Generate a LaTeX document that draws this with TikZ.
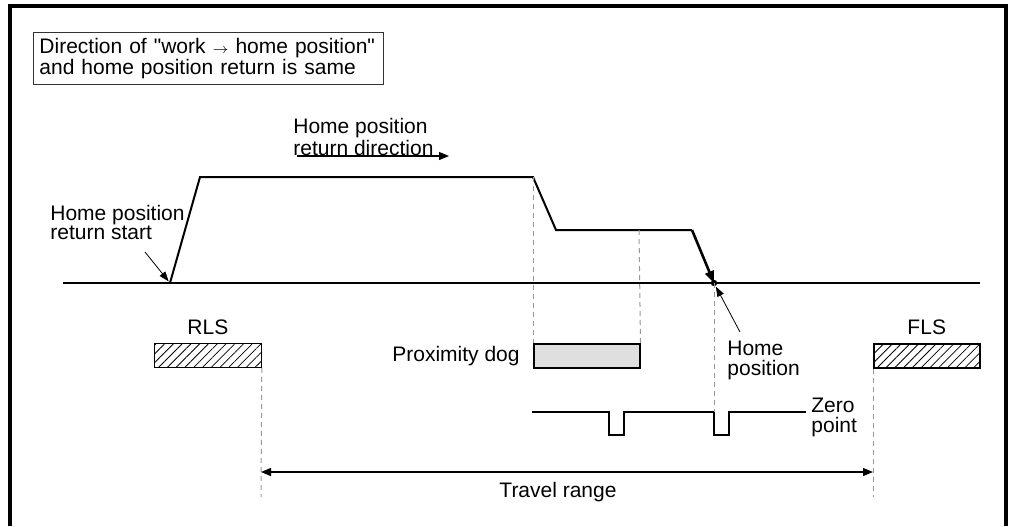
\documentclass[tikz,border=0pt]{standalone}
\usepackage{fontspec}
\setmainfont{Liberation Sans}[Ligatures=TeXOff]
\usetikzlibrary{positioning, arrows.meta, patterns.meta}

\begin{document}
\begin{tikzpicture}[x=0.5pt, y=-0.5pt,
  lbl/.style={font=\fontsize{10.5pt}{9.6pt}\selectfont, inner sep=0pt, align=left},
  limitbox/.style={draw, line width=0.75pt, inner sep=0pt, minimum width=53.5pt, minimum height=12pt,
                   pattern={Lines[angle=45, distance=3.1pt, line width=0.4pt]}},
  guide/.style={draw=gray!80, dash pattern=on 2.5pt off 2pt, line width=0.5pt},
  profile/.style={line width=1pt, line join=miter},
  headarrow/.style={-{Triangle[length=5pt, width=4pt]}, line width=0.6pt},
  pointer/.style={-{Triangle[length=5pt, width=3.5pt]}, line width=0.4pt}]
  \useasboundingbox (0,0) rectangle (1009,526);
  % open frame
  \draw[line width=1.75pt] (10,526) -- (10,6) -- (1006,6) -- (1006,526);
  \node[lbl, draw=black!80, line width=0.45pt, anchor=north west, inner xsep=3pt, text width=169pt,
        minimum height=26pt] (title) at (33,32)
        {Direction of "work {\fontsize{7pt}{7pt}\selectfont$\rightarrow$} home position"\\and home position return is same};
  % motion profile
  \coordinate (start) at (170,283);
  \coordinate (home) at (714,283);
  \draw[line width=0.7pt] (63,283) -- (980,283);
  \draw[profile] (start) -- (200,177) -- (533,177) -- (556,230) -- (692,230) coordinate (slowend);
  \draw[line width=1.3pt, -{Triangle[length=6pt, width=4.5pt]}] (slowend) -- (home);
  \fill (home) circle[radius=1.6pt];
  \node[lbl, anchor=north west] (dirlabel) at (293,118) {Home position\\return direction};
  \coordinate (dirtail) at (297,156);
  \coordinate (dirhead) at (449,156);
  \draw[headarrow] (dirtail) -- (dirhead);
  \node[lbl, anchor=north west] (startlabel) at (50,205) {Home position\\return start};
  \coordinate (startpt) at (145,252);
  \draw[pointer, shorten >=1pt] (startpt) -- (start);
  \node[lbl, anchor=north west] (homelabel) at (727,341) {Home\\position};
  \coordinate (homept) at (740,332);
  \draw[pointer, shorten >=2pt] (homept) -- (home);
  % limit switches and dog
  \node[limitbox, anchor=north west] (rls) at (154,343) {};
  \node[lbl, above=4pt of rls] (rlslabel) {RLS};
  \node[limitbox, anchor=north west, minimum width=53pt] (fls) at (873,343) {};
  \node[lbl, above=4pt of fls] (flslabel) {FLS};
  \node[draw, fill=gray!25, line width=0.75pt, inner sep=0pt, minimum width=53pt, minimum height=12pt,
        anchor=north west] (dog) at (533,343) {};
  \node[lbl, left=6.5pt of dog] (doglabel) {Proximity dog};
  % zero point signal
  \draw[line width=0.6pt] (532,412) -- (609,412) -- (609,435) -- (624,435) -- (624,412) -- (714,412)
        -- (714,435) -- (729,435) -- (729,412) -- (806,412) coordinate (zeroend);
  \node[lbl, anchor=north west] (zerolabel) at (811,398) {Zero\\point};
  % guide lines
  \draw[guide] (533,177) -- (dog.north west);
  \draw[guide] (639,230) -- (dog.north east);
  \draw[guide] (home) -- (714,412);
  \draw[guide] (rls.south east) -- (261,497);
  \draw[guide] (fls.south west) -- (873,497);
  % travel range
  \coordinate (travelleft) at (261,472);
  \coordinate (travelright) at (873,472);
  \draw[line width=0.6pt, {Triangle[length=5pt, width=4pt]}-{Triangle[length=5pt, width=4pt]}]
        (travelleft) -- node[lbl, below=5pt, xshift=-4.5pt] (travellabel) {Travel range} (travelright);
\end{tikzpicture}
\end{document}
